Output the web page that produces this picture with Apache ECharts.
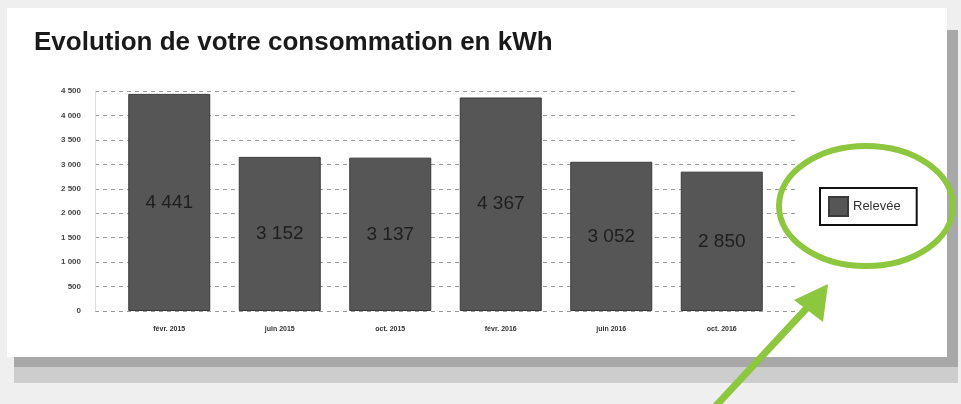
<!DOCTYPE html>
<html>
<head>
<meta charset="utf-8">
<script src="https://cdn.jsdelivr.net/npm/echarts@6/dist/echarts.min.js"></script>
<style>
  html, body { margin: 0; padding: 0; background: #efefef; }
  #chart { width: 961px; height: 404px; }
</style>
</head>
<body>
<div id="chart"></div>
<script>
// données du relevé
const categories = ['févr. 2015', 'juin 2015', 'oct. 2015', 'févr. 2016', 'juin 2016', 'oct. 2016'];
const releve = [4441, 3152, 3137, 4367, 3052, 2850];
const yTicks = [0, 500, 1000, 1500, 2000, 2500, 3000, 3500, 4000, 4500];

const fmt = v => String(v).replace(/\B(?=(\d{3})+(?!\d))/g, ' ');
const font = '"Liberation Sans", Arial, sans-serif';

const myChart = echarts.init(document.getElementById('chart'));
myChart.setOption({
  animation: false,
  backgroundColor: '#efefef',
  textStyle: { fontFamily: font },
  title: {
    text: 'Evolution de votre consommation en kWh',
    left: 34,
    top: 30,
    padding: 0,
    textStyle: { fontSize: 26, fontWeight: 'bold', color: '#1a1a1a', fontFamily: font }
  },
  legend: {
    left: 820,
    top: 188,
    data: ['Relevée'],
    itemWidth: 19,
    itemHeight: 19,
    itemGap: 6,
    padding: [8, 16, 8, 8],
    borderColor: '#111',
    borderWidth: 2,
    backgroundColor: '#fff',
    icon: 'rect',
    textStyle: { fontSize: 13, color: '#333', fontFamily: font }
  },
  grid: [
    { left: 95, top: 91, width: 700, height: 220 },
    { left: 114, top: 91, width: 663, height: 220 }
  ],
  xAxis: [
    { gridIndex: 0, type: 'value', min: 0, max: 1, show: false },
    {
      gridIndex: 1,
      type: 'category',
      data: categories,
      axisLine: { show: false },
      axisTick: { show: false },
      axisLabel: { margin: 15, fontSize: 7, fontWeight: 'bold', color: '#333' }
    }
  ],
  yAxis: [
    {
      gridIndex: 0,
      type: 'value',
      min: yTicks[0],
      max: yTicks[yTicks.length - 1],
      interval: yTicks[1] - yTicks[0],
      axisLine: { show: true, lineStyle: { color: '#ddd' } },
      axisTick: { show: false },
      axisLabel: { margin: 14, fontSize: 8, fontWeight: 'bold', color: '#444', formatter: fmt },
      splitLine: { lineStyle: { color: '#9a9a9a', type: [4, 4], width: 1 } }
    },
    {
      gridIndex: 1,
      type: 'value',
      min: yTicks[0],
      max: yTicks[yTicks.length - 1],
      show: false,
      splitLine: { show: false }
    }
  ],
  series: [{
    name: 'Relevée',
    type: 'bar',
    xAxisIndex: 1,
    yAxisIndex: 1,
    data: releve,
    barWidth: 82,
    itemStyle: { color: '#565656', borderColor: '#3a3a3a', borderWidth: 1 },
    label: {
      show: true,
      position: 'inside',
      formatter: p => fmt(p.value),
      fontSize: 19,
      color: '#1e1e1e',
      fontFamily: font
    }
  }],
  graphic: [
    // feuille blanche et ombre portée
    { type: 'rect', z: -20, shape: { x: 14, y: 357, width: 944, height: 10 }, style: { fill: '#a8a8a8' } },
    { type: 'rect', z: -20, shape: { x: 14, y: 367, width: 944, height: 16 }, style: { fill: '#cdcdcd' } },
    { type: 'rect', z: -20, shape: { x: 947, y: 30, width: 11, height: 337 }, style: { fill: '#a8a8a8' } },
    { type: 'rect', z: -10, shape: { x: 7, y: 8, width: 940, height: 349 }, style: { fill: '#ffffff' } },
    // annotation verte
    {
      type: 'ellipse', z: 50,
      shape: { cx: 866, cy: 206, rx: 87, ry: 60 },
      style: { fill: 'none', stroke: '#8dc63f', lineWidth: 6 }
    },
    {
      type: 'line', z: 50,
      shape: { x1: 712, y1: 410, x2: 818, y2: 296 },
      style: { stroke: '#8dc63f', lineWidth: 7 }
    },
    {
      type: 'polygon', z: 50,
      shape: { points: [[828, 284], [794, 300], [823, 322]] },
      style: { fill: '#8dc63f' }
    }
  ]
});
</script>
</body>
</html>
